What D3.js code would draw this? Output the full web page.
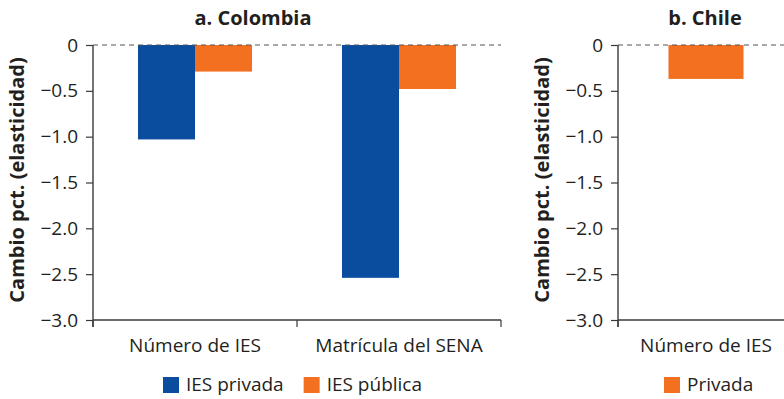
<!DOCTYPE html>
<html><head><meta charset="utf-8">
<script src="https://cdn.jsdelivr.net/npm/d3@7"></script>
<style>body{margin:0;background:#fff}text{font-family:"Open Sans",sans-serif;fill:#231f20}</style>
</head><body><svg id="c" width="784" height="399"></svg>
<script>
const catsA = ["Número de IES", "Matrícula del SENA"];
const seriesA = ["IES privada", "IES pública"];
const privadaA = [-1.03, -2.54];
const publicaA = [-0.29, -0.48];
const catsB = ["Número de IES"];
const seriesB = ["Privada"];
const privadaB = [-0.37];
const yTicks = [0, -0.5, -1.0, -1.5, -2.0, -2.5, -3.0];
const titles = ["a. Colombia", "b. Chile"];
const yLabel = "Cambio pct. (elasticidad)";
const colors = {"IES privada": "#0a4d9f", "IES pública": "#f37021", "Privada": "#f37021"};

const svg = d3.select("#c");
const y = d3.scaleLinear().domain([-3, 0]).range([320, 45]);
const fmt = v => v === 0 ? "0" : d3.format(".1f")(v).replace("-", "\u2212");

function panel(opts) {
  const {cats, series, values, x0, x1, subPad, title, titleX, labelX, legendX} = opts;
  const g = svg.append("g");
  const x = d3.scaleBand().domain(cats).range([x0, x1]);
  const xs = d3.scaleBand().domain(series).range([0, x.bandwidth()]).paddingOuter(subPad);
  series.forEach((s, si) => {
    g.selectAll(null).data(cats).enter().append("rect")
      .attr("x", c => x(c) + xs(s))
      .attr("width", xs.bandwidth())
      .attr("y", y(0))
      .attr("height", (c, i) => y(values[si][i]) - y(0))
      .attr("fill", colors[s]);
  });
  const ya = g.append("g").attr("transform", `translate(${x0},0)`)
    .call(d3.axisLeft(y).tickValues(yTicks).tickFormat(fmt).tickSize(7).tickPadding(8));
  ya.select(".domain").remove();
  ya.selectAll("line").attr("stroke", "#3a3a3a").attr("stroke-width", 1.2);
  ya.selectAll("text").style("font-size", "19px").style("font-family", "Open Sans").attr("fill", "#231f20");
  g.append("line").attr("x1", x0).attr("x2", x0).attr("y1", y(0)).attr("y2", y(-3) + 7)
    .attr("stroke", "#3a3a3a").attr("stroke-width", 1.4);
  const xa = g.append("g").attr("transform", `translate(0,${y(-3)})`)
    .call(d3.axisBottom(x).tickSize(0).tickPadding(19));
  xa.select(".domain").attr("stroke", "#3a3a3a").attr("stroke-width", 1.4).attr("d", `M${x0},0H${x1}`);
  xa.selectAll("text").style("font-size", "19px").style("font-family", "Open Sans").attr("fill", "#231f20");
  const bTicks = cats.map(c => x(c)).concat([x1]);
  g.selectAll(null).data(bTicks).enter().append("line")
    .attr("x1", d => d).attr("x2", d => d).attr("y1", y(-3)).attr("y2", y(-3) + 7)
    .attr("stroke", "#3a3a3a").attr("stroke-width", 1.2);
  g.append("line").attr("x1", x0).attr("x2", x1).attr("y1", y(0)).attr("y2", y(0))
    .attr("stroke", "#555").attr("stroke-width", 1.2).attr("stroke-dasharray", "5,4");
  g.append("text").attr("x", titleX).attr("y", 25).attr("text-anchor", "middle")
    .style("font-weight", "bold").style("font-size", "20px").text(title);
  g.append("text").attr("transform", `translate(${labelX},180) rotate(-90)`).attr("text-anchor", "middle")
    .style("font-weight", "bold").style("font-size", "20px").text(yLabel);
  let lx = legendX;
  series.forEach(s => {
    g.append("rect").attr("x", lx).attr("y", 377).attr("width", 16).attr("height", 16).attr("fill", colors[s]);
    const t = g.append("text").attr("x", lx + 23).attr("y", 391).style("font-size", "19px").text(s);
    lx += 23 + t.node().getComputedTextLength() + 20;
  });
}

panel({cats: catsA, series: seriesA, values: [privadaA, publicaA], x0: 93, x1: 501, subPad: 0.789,
  title: titles[0], titleX: 253, labelX: 24, legendX: 163});
panel({cats: catsB, series: seriesB, values: [privadaB], x0: 618, x1: 794, subPad: 0.673,
  title: titles[1], titleX: 705, labelX: 549, legendX: 664});
</script></body></html>
